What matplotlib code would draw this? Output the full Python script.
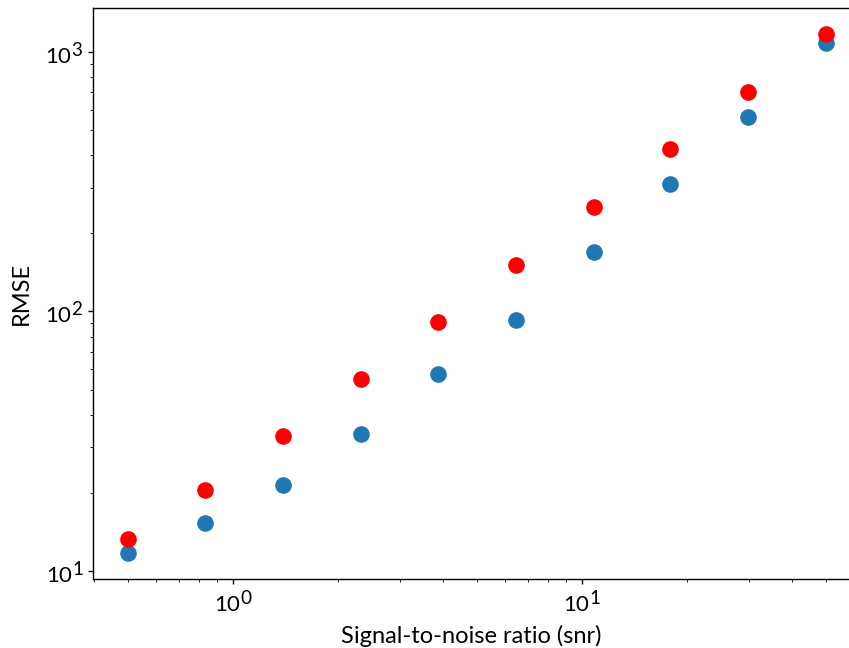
import matplotlib

matplotlib.use("Agg")
import matplotlib._mathtext as mathtext_internals
import matplotlib.pyplot as plt

plt.rcParams["font.family"] = ["Lato", "DejaVu Sans"]
plt.rcParams["mathtext.fontset"] = "custom"
plt.rcParams["mathtext.rm"] = "Lato"
plt.rcParams["mathtext.it"] = "Lato:italic"
# larger exponents on the 10^n tick labels
mathtext_internals.SHRINK_FACTOR = 0.85

# signal-to-noise levels and the error of each method
snr = [0.5, 0.834, 1.39, 2.32, 3.87, 6.46, 10.8, 17.9, 29.9, 50.0]
rmse_blue = [11.7, 15.3, 21.4, 33.7, 57.4, 92.8, 169, 310, 562, 1083]
rmse_red = [13.3, 20.5, 33.1, 55.0, 91.1, 151, 253, 423, 701, 1173]

fig = plt.figure(figsize=(8.49, 6.48), dpi=100)
ax = fig.add_axes([0.1095, 0.1065, 0.8905, 0.8812])

ax.scatter(snr, rmse_blue, s=120, color="#1f77b4", zorder=2)
ax.scatter(snr, rmse_red, s=120, color="red", zorder=3)

ax.set_xscale("log")
ax.set_yscale("log")
ax.set_xlim(0.397, 58.2)
ax.set_ylim(9.31, 1479)
ax.spines["right"].set_visible(False)
for side in ("left", "bottom", "top"):
    ax.spines[side].set_linewidth(1.0)

ax.set_xlabel("Signal-to-noise ratio (snr)", fontsize=17, labelpad=7)
ax.set_ylabel("RMSE", fontsize=17, labelpad=10)
ax.tick_params(labelsize=16, width=1.0)

fig.savefig("out.png", dpi=100)
